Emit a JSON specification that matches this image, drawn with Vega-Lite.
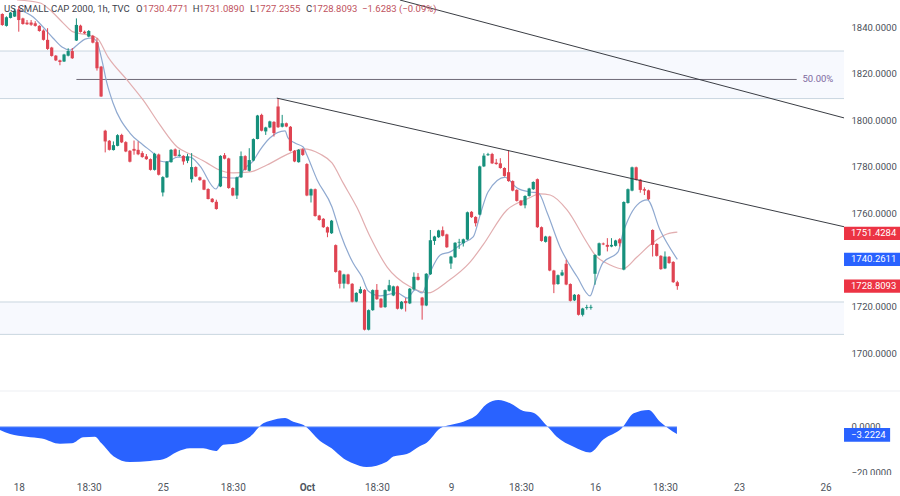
{
"$schema":"https://vega.github.io/schema/vega-lite/v6.json",
"width":900,"height":496,"autosize":"none","padding":0,"background":"#ffffff",
"config":{"view":{"stroke":null},"text":{"font":"Roboto"},"axis":{"labelFont":"Roboto"}},
"datasets":{
"candles":[
{"t":0,"o":1845.6,"h":1845.9,"l":1840.5,"c":1840.9},{"t":1,"o":1840.5,"h":1844.6,"l":1840.2,"c":1844.2},{"t":2,"o":1843.9,"h":1846.5,"l":1843.7,"c":1846.2},{"t":3,"o":1844.5,"h":1848,"l":1844.3,"c":1847},{"t":4,"o":1847.6,"h":1849,"l":1838,"c":1843},{"t":5,"o":1843.7,"h":1844,"l":1841,"c":1841.3},{"t":6,"o":1841.9,"h":1843,"l":1840.9,"c":1841.2},{"t":7,"o":1841.9,"h":1843,"l":1840.5,"c":1841},{"t":8,"o":1841.6,"h":1842.5,"l":1840.2,"c":1840.5},{"t":9,"o":1840.5,"h":1840.8,"l":1838,"c":1838.3},
{"t":10,"o":1838.5,"h":1839,"l":1834.2,"c":1834.5},{"t":11,"o":1834.5,"h":1839.5,"l":1830.2,"c":1830.6},{"t":12,"o":1831.2,"h":1831.5,"l":1827.3,"c":1827.6},{"t":13,"o":1827.7,"h":1828,"l":1825.4,"c":1825.7},{"t":14,"o":1825.7,"h":1826,"l":1823.6,"c":1825},{"t":15,"o":1825.2,"h":1828.5,"l":1825,"c":1828.2},{"t":16,"o":1827.7,"h":1830.9,"l":1827.4,"c":1829.7},{"t":17,"o":1829.7,"h":1831,"l":1826.3,"c":1826.6},{"t":18,"o":1834.2,"h":1843.7,"l":1834,"c":1840.9},{"t":19,"o":1840.6,"h":1841,"l":1837.6,"c":1837.9},
{"t":20,"o":1838,"h":1838.5,"l":1837,"c":1837.3},{"t":21,"o":1835.9,"h":1838.7,"l":1835.6,"c":1838.3},{"t":22,"o":1836.2,"h":1836.6,"l":1833,"c":1833.3},{"t":23,"o":1833.5,"h":1835.2,"l":1821.3,"c":1822.3},{"t":24,"o":1823,"h":1823.3,"l":1810,"c":1810.2},{"t":25,"o":1795.5,"h":1795.9,"l":1786.2,"c":1790.9},{"t":26,"o":1791.2,"h":1791.5,"l":1787,"c":1787.3},{"t":27,"o":1787.2,"h":1790.9,"l":1787,"c":1789.3},{"t":28,"o":1789,"h":1794,"l":1788.8,"c":1793.6},{"t":29,"o":1793.7,"h":1794.2,"l":1790.2,"c":1790.5},
{"t":30,"o":1790.6,"h":1791,"l":1786.3,"c":1786.6},{"t":31,"o":1786.9,"h":1787.2,"l":1781.9,"c":1782.2},{"t":32,"o":1787.7,"h":1791.3,"l":1785.2,"c":1786.9},{"t":33,"o":1787.3,"h":1790.9,"l":1785,"c":1785.4},{"t":34,"o":1785.9,"h":1786.7,"l":1783.9,"c":1784.2},{"t":35,"o":1784.5,"h":1785.5,"l":1783,"c":1783.3},{"t":36,"o":1783.3,"h":1783.6,"l":1778.4,"c":1778.7},{"t":37,"o":1778.7,"h":1786,"l":1778.4,"c":1785.6},{"t":38,"o":1785.3,"h":1785.7,"l":1776.3,"c":1776.6},{"t":39,"o":1769,"h":1776,"l":1767.3,"c":1775.6},
{"t":40,"o":1775.5,"h":1782.5,"l":1775.2,"c":1782.2},{"t":41,"o":1782,"h":1787.6,"l":1781.8,"c":1787.3},{"t":42,"o":1787.5,"h":1787.9,"l":1784.4,"c":1784.7},{"t":43,"o":1784.7,"h":1787.3,"l":1784.4,"c":1785.2},{"t":44,"o":1784.7,"h":1785,"l":1780.9,"c":1782.3},{"t":45,"o":1782.6,"h":1785.6,"l":1781.6,"c":1784.5},{"t":46,"o":1774.7,"h":1785.9,"l":1773.3,"c":1779.9},{"t":47,"o":1779.9,"h":1780.2,"l":1775.6,"c":1775.9},{"t":48,"o":1775.5,"h":1775.8,"l":1774,"c":1774.3},{"t":49,"o":1774.3,"h":1774.6,"l":1770,"c":1770.2},
{"t":50,"o":1770.5,"h":1770.8,"l":1766,"c":1766.2},{"t":51,"o":1766.3,"h":1766.6,"l":1764.6,"c":1764.9},{"t":52,"o":1765,"h":1765.9,"l":1761.6,"c":1761.9},{"t":53,"o":1771.6,"h":1785,"l":1771.3,"c":1784.7},{"t":54,"o":1785,"h":1785.9,"l":1783.2,"c":1783.5},{"t":55,"o":1783.6,"h":1783.9,"l":1770.6,"c":1770.9},{"t":56,"o":1770.9,"h":1771.2,"l":1767.4,"c":1767.7},{"t":57,"o":1767.7,"h":1775.8,"l":1766.2,"c":1775.5},{"t":58,"o":1775.5,"h":1786.6,"l":1775.2,"c":1784.6},{"t":59,"o":1784.6,"h":1785,"l":1778.4,"c":1778.7},
{"t":60,"o":1778.3,"h":1788,"l":1778,"c":1782.9},{"t":61,"o":1782.7,"h":1792.2,"l":1782.4,"c":1791.9},{"t":62,"o":1792,"h":1802.3,"l":1791.8,"c":1802},{"t":63,"o":1802.3,"h":1802.8,"l":1795.2,"c":1795.5},{"t":64,"o":1795.2,"h":1797.2,"l":1793.7,"c":1796.9},{"t":65,"o":1796.9,"h":1799.8,"l":1796.6,"c":1799.5},{"t":66,"o":1799.3,"h":1799.6,"l":1793,"c":1794.5},{"t":67,"o":1805.9,"h":1809.5,"l":1796.7,"c":1797},{"t":68,"o":1797.2,"h":1802.3,"l":1796.9,"c":1798.7},{"t":69,"o":1798.7,"h":1799,"l":1797,"c":1797.3},
{"t":70,"o":1797.2,"h":1797.5,"l":1786.6,"c":1786.9},{"t":71,"o":1786.9,"h":1787.2,"l":1782,"c":1782.3},{"t":72,"o":1782,"h":1787.6,"l":1781.8,"c":1787.3},{"t":73,"o":1787.5,"h":1787.9,"l":1784.7,"c":1785.1},{"t":74,"o":1781.2,"h":1781.6,"l":1767.4,"c":1767.7},{"t":75,"o":1767.7,"h":1770.7,"l":1764.7,"c":1770.4},{"t":76,"o":1770.4,"h":1770.7,"l":1758.6,"c":1758.9},{"t":77,"o":1759.1,"h":1759.4,"l":1756.9,"c":1757.2},{"t":78,"o":1757.7,"h":1758,"l":1753.8,"c":1754.1},{"t":79,"o":1754.1,"h":1754.4,"l":1749.8,"c":1751.8},
{"t":80,"o":1751.5,"h":1757.2,"l":1751.2,"c":1756.9},{"t":81,"o":1746.4,"h":1746.7,"l":1734.6,"c":1734.9},{"t":82,"o":1735.4,"h":1735.7,"l":1727.8,"c":1729.8},{"t":83,"o":1729.9,"h":1734.1,"l":1727.8,"c":1733.8},{"t":84,"o":1733.8,"h":1734.1,"l":1729.5,"c":1729.8},{"t":85,"o":1729.8,"h":1730.1,"l":1721.8,"c":1722.1},{"t":86,"o":1722.2,"h":1726.2,"l":1721.9,"c":1725.9},{"t":87,"o":1725.8,"h":1728.6,"l":1725.5,"c":1727.5},{"t":88,"o":1727.2,"h":1727.5,"l":1709.8,"c":1710.1},{"t":89,"o":1710.1,"h":1718.8,"l":1709.8,"c":1718.5},
{"t":90,"o":1718.5,"h":1727.4,"l":1718.2,"c":1727.1},{"t":91,"o":1727.2,"h":1729.7,"l":1722.9,"c":1723.2},{"t":92,"o":1723.4,"h":1723.7,"l":1719.4,"c":1719.7},{"t":93,"o":1719.8,"h":1727.4,"l":1719.5,"c":1727.1},{"t":94,"o":1726.8,"h":1731.5,"l":1726.5,"c":1729.2},{"t":95,"o":1724.8,"h":1729,"l":1724.5,"c":1728.7},{"t":96,"o":1728.7,"h":1729,"l":1718.8,"c":1719.1},{"t":97,"o":1719.1,"h":1722.4,"l":1718.8,"c":1722.1},{"t":98,"o":1722.4,"h":1723.7,"l":1717.9,"c":1721.5},{"t":99,"o":1721.4,"h":1728,"l":1721.1,"c":1727.7},
{"t":100,"o":1727.4,"h":1734.7,"l":1727.1,"c":1732.8},{"t":101,"o":1732.8,"h":1734.4,"l":1731.2,"c":1731.5},{"t":102,"o":1723.9,"h":1724.2,"l":1714.4,"c":1720.5},{"t":103,"o":1720.5,"h":1734.4,"l":1720.2,"c":1734.1},{"t":104,"o":1733.9,"h":1752.9,"l":1733.6,"c":1748.5},{"t":105,"o":1748.2,"h":1750.4,"l":1746.5,"c":1750.1},{"t":106,"o":1749.8,"h":1753,"l":1749.5,"c":1752.7},{"t":107,"o":1752.8,"h":1754.4,"l":1750.1,"c":1750.4},{"t":108,"o":1751,"h":1751.3,"l":1745.2,"c":1745.5},{"t":109,"o":1738.5,"h":1741.8,"l":1736.2,"c":1741.5},
{"t":110,"o":1741.2,"h":1747.7,"l":1740.9,"c":1747.4},{"t":111,"o":1747.5,"h":1749.1,"l":1744.8,"c":1747.8},{"t":112,"o":1747.2,"h":1749.2,"l":1745.8,"c":1748.9},{"t":113,"o":1748.8,"h":1760.8,"l":1748.5,"c":1760.5},{"t":114,"o":1760.7,"h":1761,"l":1758.1,"c":1758.4},{"t":115,"o":1758.5,"h":1758.8,"l":1754.4,"c":1755.8},{"t":116,"o":1759.5,"h":1780.5,"l":1759.2,"c":1780.2},{"t":117,"o":1780.2,"h":1785.8,"l":1779.9,"c":1784.8},{"t":118,"o":1785,"h":1786,"l":1784.7,"c":1785.4},{"t":119,"o":1785.5,"h":1786,"l":1781.2,"c":1781.5},
{"t":120,"o":1781.8,"h":1783.4,"l":1780.9,"c":1781.2},{"t":121,"o":1781.5,"h":1783.7,"l":1779.2,"c":1779.5},{"t":122,"o":1779.5,"h":1779.8,"l":1775.8,"c":1776.1},{"t":123,"o":1777.7,"h":1787.2,"l":1773.6,"c":1773.9},{"t":124,"o":1773.9,"h":1774.2,"l":1769.5,"c":1769.8},{"t":125,"o":1770.1,"h":1770.4,"l":1765.1,"c":1765.4},{"t":126,"o":1765.5,"h":1765.8,"l":1763.2,"c":1763.5},{"t":127,"o":1763.5,"h":1767.8,"l":1762.2,"c":1767.5},{"t":128,"o":1767.5,"h":1771,"l":1767.2,"c":1770.7},{"t":129,"o":1770.4,"h":1773.8,"l":1770.1,"c":1773.5},
{"t":130,"o":1774.7,"h":1775,"l":1753.8,"c":1754.1},{"t":131,"o":1754.1,"h":1754.4,"l":1747.9,"c":1748.2},{"t":132,"o":1747.8,"h":1750.4,"l":1747.5,"c":1750.1},{"t":133,"o":1750.1,"h":1750.4,"l":1735.2,"c":1735.5},{"t":134,"o":1735.5,"h":1735.8,"l":1725.8,"c":1729.5},{"t":135,"o":1729.7,"h":1733.8,"l":1729.4,"c":1733.5},{"t":136,"o":1733.4,"h":1735.8,"l":1733.1,"c":1734.7},{"t":137,"o":1738.4,"h":1740.1,"l":1729.2,"c":1729.5},{"t":138,"o":1729.7,"h":1730,"l":1722.2,"c":1722.5},{"t":139,"o":1722.7,"h":1725.4,"l":1722.4,"c":1725.1},
{"t":140,"o":1725.1,"h":1725.4,"l":1716.2,"c":1716.5},{"t":141,"o":1716.5,"h":1719.5,"l":1715.8,"c":1719.2},{"t":142,"o":1719.4,"h":1720.8,"l":1718.7,"c":1719.8},{"t":143,"o":1719.5,"h":1720.8,"l":1718.7,"c":1719.9},{"t":144,"o":1734.1,"h":1742.5,"l":1729.4,"c":1742.2},{"t":145,"o":1742,"h":1747.5,"l":1741.7,"c":1747.2},{"t":146,"o":1747.1,"h":1747.5,"l":1746.4,"c":1746.7},{"t":147,"o":1746.5,"h":1749.4,"l":1743.7,"c":1745.7},{"t":148,"o":1745.8,"h":1749.4,"l":1745.5,"c":1746.5},{"t":149,"o":1746.1,"h":1748.7,"l":1745.8,"c":1748.4},
{"t":150,"o":1748.9,"h":1749.4,"l":1745.8,"c":1747.2},{"t":151,"o":1735.9,"h":1765.2,"l":1735.6,"c":1764.9},{"t":152,"o":1764.5,"h":1770.7,"l":1764.2,"c":1770.4},{"t":153,"o":1769.8,"h":1780.1,"l":1769.5,"c":1779.8},{"t":154,"o":1779.8,"h":1780.1,"l":1774.1,"c":1774.4},{"t":155,"o":1774.5,"h":1774.8,"l":1768.9,"c":1770.1},{"t":156,"o":1770.4,"h":1771.2,"l":1767.9,"c":1769.8},{"t":157,"o":1769.9,"h":1770.2,"l":1765.8,"c":1766.1},{"t":158,"o":1752.9,"h":1753.2,"l":1741.5,"c":1746.5},{"t":159,"o":1746.9,"h":1747.2,"l":1741.5,"c":1741.8},
{"t":160,"o":1741.8,"h":1742.1,"l":1735.8,"c":1736.1},{"t":161,"o":1736.4,"h":1743.7,"l":1736.1,"c":1741.5},{"t":162,"o":1741.4,"h":1741.7,"l":1738.4,"c":1738.7},{"t":163,"o":1739.2,"h":1739.5,"l":1730.2,"c":1730.5},{"t":164,"o":1730.4771,"h":1731.089,"l":1727.2355,"c":1728.8093}
],
"fast":[
{"t":4.3,"v":1847.3},{"t":7.5,"v":1844.3},{"t":9.9,"v":1840},{"t":12.3,"v":1835.3},{"t":14.5,"v":1831.4},{"t":16.5,"v":1830.1},{"t":18.2,"v":1832.3},{"t":20.1,"v":1834.8},{"t":21.8,"v":1835.3},{"t":23,"v":1833.6},{"t":24.2,"v":1825.8},{"t":25.4,"v":1816},{"t":26.9,"v":1807.4},{"t":31,"v":1794.5},{"t":34.2,"v":1789.4},{"t":37.1,"v":1785.1},{"t":38.3,"v":1782.5},{"t":40,"v":1782.1},{"t":42.5,"v":1784.2},{"t":45.6,"v":1784.2},{"t":48,"v":1780.4},{"t":51.9,"v":1770.5},{"t":53.6,"v":1775.6},{"t":55.3,"v":1775.2},{"t":57,"v":1775.2},{"t":59,"v":1779.5},{"t":60.9,"v":1782.5},{"t":62.6,"v":1787.2},{"t":65,"v":1792.4},{"t":68.7,"v":1795.4},{"t":69.4,"v":1792.4},{"t":71.1,"v":1790.2},{"t":73.1,"v":1788.5},{"t":74,"v":1785.1},{"t":76.5,"v":1774.4},{"t":80.1,"v":1762.8},{"t":82.1,"v":1751.6},{"t":85.2,"v":1738.8},{"t":87.4,"v":1732.7},{"t":88.9,"v":1726.7},{"t":91.8,"v":1724.6},{"t":95.9,"v":1725.9},{"t":98.4,"v":1723.7},{"t":100.3,"v":1727.2},{"t":102,"v":1725.9},{"t":103.9,"v":1734.5},{"t":106.4,"v":1742.2},{"t":108.8,"v":1743.5},{"t":111.9,"v":1747.3},{"t":114.4,"v":1749.9},{"t":116.1,"v":1759.4},{"t":118,"v":1769.2},{"t":122.2,"v":1775.6},{"t":122.6,"v":1775.2},{"t":125.1,"v":1770.9},{"t":128.2,"v":1769.2},{"t":130.2,"v":1768.8},{"t":132.4,"v":1760.2},{"t":135.5,"v":1745.6},{"t":139.7,"v":1732.7},{"t":142.8,"v":1724.6},{"t":144,"v":1730.2},{"t":145.9,"v":1738.8},{"t":149.6,"v":1743.5},{"t":150.8,"v":1751.6},{"t":152,"v":1757.2},{"t":154.2,"v":1763.6},{"t":156.7,"v":1765.8},{"t":159.8,"v":1752.9},{"t":164,"v":1740.26}
],
"slow":[
{"t":3.6,"v":1851.6},{"t":9.2,"v":1850.3},{"t":11.6,"v":1847.3},{"t":14.8,"v":1841.7},{"t":17.2,"v":1837.9},{"t":20.8,"v":1836.6},{"t":23,"v":1835.3},{"t":25.7,"v":1827.1},{"t":30.3,"v":1817.3},{"t":34.2,"v":1808.7},{"t":38.3,"v":1798},{"t":42.5,"v":1788.5},{"t":46.1,"v":1785.1},{"t":49.7,"v":1781.7},{"t":52.2,"v":1779.1},{"t":56.1,"v":1777.4},{"t":60.2,"v":1777.8},{"t":64.3,"v":1780.8},{"t":69.9,"v":1785.9},{"t":73.1,"v":1787.7},{"t":77.2,"v":1785.5},{"t":80.1,"v":1781.7},{"t":82.8,"v":1773.1},{"t":86.2,"v":1762.4},{"t":89.4,"v":1749.9},{"t":93.5,"v":1737},{"t":99.1,"v":1728.5},{"t":103.4,"v":1725.9},{"t":108,"v":1730.6},{"t":113.7,"v":1739.2},{"t":116.8,"v":1746.5},{"t":122.6,"v":1761.5},{"t":127.5,"v":1766.2},{"t":130.7,"v":1768.4},{"t":133.1,"v":1767.9},{"t":137.2,"v":1761.5},{"t":142.1,"v":1747.3},{"t":144,"v":1742.2},{"t":147.7,"v":1737.9},{"t":150.8,"v":1736.2},{"t":154.2,"v":1741.3},{"t":157.9,"v":1747.3},{"t":161.5,"v":1751.2},{"t":164,"v":1752}
],
"osc":[
{"t":-0.56,"v":-1.45},{"t":1.9,"v":-3.2},{"t":5.9,"v":-4.35},{"t":9.6,"v":-5.1},{"t":14,"v":-7.4},{"t":16.9,"v":-7.25},{"t":19.7,"v":-4.6},{"t":22.5,"v":-4.35},{"t":24.1,"v":-7.25},{"t":27,"v":-12.8},{"t":31,"v":-15.4},{"t":35.9,"v":-14.9},{"t":39.1,"v":-14.2},{"t":42.4,"v":-11},{"t":45.6,"v":-9.4},{"t":48.8,"v":-9.4},{"t":51.9,"v":-10.6},{"t":53.7,"v":-7.8},{"t":56.1,"v":-7.5},{"t":60.2,"v":-4.35},{"t":63.4,"v":1.45},{"t":65.1,"v":2.6},{"t":68.7,"v":3.8},{"t":70.7,"v":2.2},{"t":73.2,"v":0.7},{"t":77.2,"v":-6.2},{"t":80,"v":-9.4},{"t":82.9,"v":-13.8},{"t":85.3,"v":-16},{"t":88.5,"v":-17.5},{"t":93.4,"v":-15.2},{"t":95,"v":-13},{"t":98.3,"v":-11.9},{"t":101.5,"v":-8.4},{"t":103.1,"v":-7},{"t":106.4,"v":-0.7},{"t":108.8,"v":0.7},{"t":112,"v":2.2},{"t":114.9,"v":4.6},{"t":117.7,"v":9.9},{"t":120.5,"v":11.6},{"t":123.4,"v":10.2},{"t":126.6,"v":6.8},{"t":129,"v":6.1},{"t":132.3,"v":0.4},{"t":134.7,"v":-4.35},{"t":138.8,"v":-8.7},{"t":142.8,"v":-11.2},{"t":146.1,"v":-5.5},{"t":150.5,"v":-0.7},{"t":153.4,"v":5.8},{"t":157,"v":7.3},{"t":159.8,"v":2.2},{"t":163.9,"v":-3.22}
]
},
"resolve":{"scale":{"y":"independent"}},
"layer":[
{
"layer":[
{"data":{"values":[{"t0":-0.56,"t1":204.5,"lo":1809.3,"hi":1829.7},{"t0":-0.56,"t1":204.5,"lo":1708.1,"hi":1722}]},
 "mark":{"type":"rect","fill":"#f7f9fe"},
 "encoding":{"x":{"field":"t0","type":"quantitative","scale":{"domain":[-0.56,218.1],"nice":false,"zero":false,"padding":0},
   "axis":{"orient":"bottom","title":null,"values":[4,21,39,56,74,91,109,126,144,161,179,200],"grid":false,"ticks":false,"domain":false,"zindex":1,
     "labelExpr":"{'4':'18','21':'18:30','39':'25','56':'18:30','74':'Oct','91':'18:30','109':'9','126':'18:30','144':'16','161':'18:30','179':'23','200':'26'}[datum.value]",
     "labelPadding":-14,"labelFontSize":10,"labelColor":"#4f5560","labelOverlap":false,"labelFlush":false,"labelFontWeight":{"condition":{"test":"datum.value==74","value":"bold"},"value":"normal"}}},
  "x2":{"field":"t1"},
  "y":{"field":"lo","type":"quantitative","scale":{"domain":[1683.8,1851.6],"range":[391,0],"nice":false,"zero":false},
   "axis":{"orient":"right","title":null,"values":[1700,1720,1760,1780,1800,1820,1840],"format":".4f","grid":false,"ticks":false,"domain":false,"labelPadding":-49,"labelAlign":"left","labelFontSize":9.5,"labelColor":"#4a4f59"}},
  "y2":{"field":"hi"}}},
{"data":{"values":[{"t0":-0.56,"t1":204.5,"p":1829.7},{"t0":-0.56,"t1":204.5,"p":1809.3},{"t0":-0.56,"t1":204.5,"p":1722},{"t0":-0.56,"t1":204.5,"p":1708.1}]},
 "mark":{"type":"rule","color":"#c9d6e0","strokeWidth":1},
 "encoding":{"x":{"field":"t0","type":"quantitative"},"x2":{"field":"t1"},"y":{"field":"p","type":"quantitative"}}},
{"data":{"values":[{"t0":18,"t1":193,"p":1817.5}]},
 "mark":{"type":"rule","color":"#6e6a78","strokeWidth":1},
 "encoding":{"x":{"field":"t0","type":"quantitative"},"x2":{"field":"t1"},"y":{"field":"p","type":"quantitative"}}},
{"data":{"values":[{"t":194.4,"p":1817.5,"label":"50.00%"}]},
 "mark":{"type":"text","align":"left","baseline":"middle","fontSize":9.5,"color":"#7e6a9e"},
 "encoding":{"x":{"field":"t","type":"quantitative"},"y":{"field":"p","type":"quantitative"},"text":{"field":"label"}}},
{"data":{"name":"slow"},"mark":{"type":"line","color":"#e2aeb0","strokeWidth":1.2,"interpolate":"monotone"},
 "encoding":{"x":{"field":"t","type":"quantitative"},"y":{"field":"v","type":"quantitative"}}},
{"data":{"name":"fast"},"mark":{"type":"line","color":"#8fa9d0","strokeWidth":1.2,"interpolate":"monotone"},
 "encoding":{"x":{"field":"t","type":"quantitative"},"y":{"field":"v","type":"quantitative"}}},
{"data":{"name":"candles"},"mark":{"type":"rule","strokeWidth":1},
 "encoding":{"x":{"field":"t","type":"quantitative"},"y":{"field":"l","type":"quantitative"},"y2":{"field":"h"},
  "color":{"condition":{"test":"datum.c<datum.o","value":"#df4452"},"value":"#16907c"}}},
{"data":{"name":"candles"},"mark":{"type":"bar","size":3.2},
 "encoding":{"x":{"field":"t","type":"quantitative"},"y":{"field":"o","type":"quantitative"},"y2":{"field":"c"},
  "color":{"condition":{"test":"datum.c<datum.o","value":"#df4452"},"value":"#16907c"}}},
{"data":{"values":[{"t":66.7,"p":1809.5,"line":"a"},{"t":204.5,"p":1754.3,"line":"a"},{"t":96.6,"p":1851.6,"line":"b"},{"t":204.5,"p":1801,"line":"b"}]},
 "mark":{"type":"line","color":"#3a3d44","strokeWidth":1},
 "encoding":{"x":{"field":"t","type":"quantitative"},"y":{"field":"p","type":"quantitative"},"detail":{"field":"line"}}},
{"data":{"values":[{"t0":204.5,"t1":218.1,"lo":1748.6,"hi":1754.3,"tag":"red"},{"t0":204.5,"t1":218.1,"lo":1737.4,"hi":1743.1,"tag":"blue"},{"t0":204.5,"t1":218.1,"lo":1726,"hi":1731.7,"tag":"red"}]},
 "mark":{"type":"rect"},
 "encoding":{"x":{"field":"t0","type":"quantitative"},"x2":{"field":"t1"},"y":{"field":"lo","type":"quantitative"},"y2":{"field":"hi"},
  "color":{"field":"tag","type":"nominal","legend":null,"scale":{"domain":["red","blue"],"range":["#ec3344","#2962ff"]}}}},
{"data":{"values":[{"t":206.2,"p":1751.4284,"label":"1751.4284"},{"t":206.2,"p":1740.2611,"label":"1740.2611"},{"t":206.2,"p":1728.8093,"label":"1728.8093"}]},
 "mark":{"type":"text","align":"left","baseline":"middle","fontSize":9.5,"color":"#ffffff"},
 "encoding":{"x":{"field":"t","type":"quantitative"},"y":{"field":"p","type":"quantitative"},"text":{"field":"label"}}},
{"data":{"values":[{"t":0.41,"p":1847.7,"label":"US SMALL CAP 2000, 1h, TVC"},{"t":32.5,"p":1847.7,"label":"O"},{"t":46.3,"p":1847.7,"label":"H"},{"t":60.2,"p":1847.7,"label":"L"},{"t":73.8,"p":1847.7,"label":"C"}]},
 "mark":{"type":"text","align":"left","baseline":"middle","fontSize":9.5,"color":"#3d414b"},
 "encoding":{"x":{"field":"t","type":"quantitative"},"y":{"field":"p","type":"quantitative"},"text":{"field":"label"}}},
{"data":{"values":[{"t":34.2,"p":1847.7,"label":"1730.4771"},{"t":47.8,"p":1847.7,"label":"1731.0890"},{"t":61.4,"p":1847.7,"label":"1727.2355"},{"t":75.3,"p":1847.7,"label":"1728.8093"},{"t":87.4,"p":1847.7,"label":"−1.6283 (−0.09%)"}]},
 "mark":{"type":"text","align":"left","baseline":"middle","fontSize":9.5,"color":"#c0525e"},
 "encoding":{"x":{"field":"t","type":"quantitative"},"y":{"field":"p","type":"quantitative"},"text":{"field":"label"}}}
]
},
{
"layer":[
{"data":{"values":[{"t0":-0.56,"t1":218.1,"v":15.52}]},
 "mark":{"type":"rule","color":"#edeff3","strokeWidth":1},
 "encoding":{"x":{"field":"t0","type":"quantitative"},"x2":{"field":"t1"},
  "y":{"field":"v","type":"quantitative","scale":{"domain":[-30.13,15.52],"range":[496,391],"nice":false,"zero":false},
   "axis":{"orient":"right","title":null,"values":[0,-20],"format":".4f","grid":false,"ticks":false,"domain":false,"labelPadding":-49,"labelAlign":"left","labelFontSize":9.5,"labelColor":"#4a4f59","labelExpr":"replace(datum.label,'-','−')"}}}},
{"data":{"name":"osc"},"mark":{"type":"area","color":"#2962ff","interpolate":"monotone"},
 "encoding":{"x":{"field":"t","type":"quantitative"},"y":{"field":"v","type":"quantitative"},"y2":{"datum":0}}},
{"data":{"values":[{"t0":-0.56,"t1":163.9,"v":0}]},
 "mark":{"type":"rule","color":"#9db8f8","strokeWidth":1},
 "encoding":{"x":{"field":"t0","type":"quantitative"},"x2":{"field":"t1"},"y":{"field":"v","type":"quantitative"}}},
{"data":{"values":[{"t0":204.5,"t1":215.7,"lo":-6.5,"hi":-0.57}]},
 "mark":{"type":"rect","fill":"#2962ff"},
 "encoding":{"x":{"field":"t0","type":"quantitative"},"x2":{"field":"t1"},"y":{"field":"lo","type":"quantitative"},"y2":{"field":"hi"}}},
{"data":{"values":[{"t":206.2,"v":-3.54,"label":"−3.2224"}]},
 "mark":{"type":"text","align":"left","baseline":"middle","fontSize":9.5,"color":"#ffffff"},
 "encoding":{"x":{"field":"t","type":"quantitative"},"y":{"field":"v","type":"quantitative"},"text":{"field":"label"}}},
{"data":{"values":[{"t0":-0.56,"t1":218.1,"lo":-30.13,"hi":-21}]},
 "mark":{"type":"rect","fill":"#ffffff"},
 "encoding":{"x":{"field":"t0","type":"quantitative"},"x2":{"field":"t1"},"y":{"field":"lo","type":"quantitative"},"y2":{"field":"hi"}}}
]
}
]
}
